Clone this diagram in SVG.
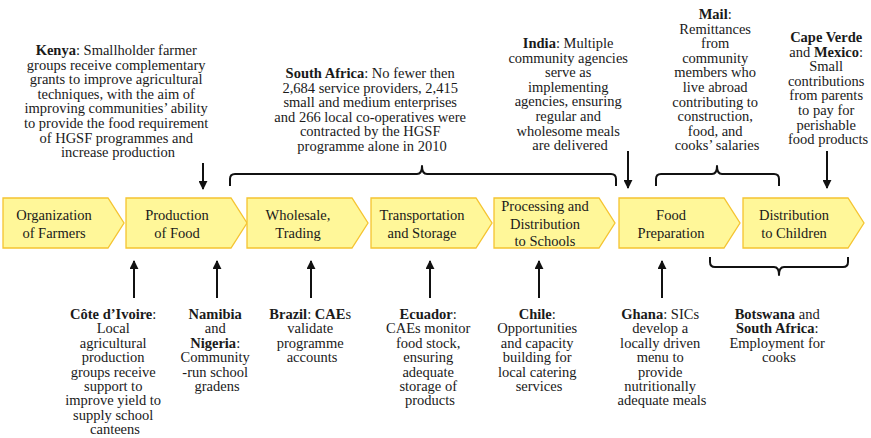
<svg xmlns="http://www.w3.org/2000/svg" width="871" height="438" viewBox="0 0 871 438">
<defs>
<style>
.t{font-family:"Liberation Serif","Times New Roman",serif;font-size:14.5px;fill:#1a1a1a;text-anchor:middle}
.b{font-weight:bold}
.chev{fill:#FFF799;stroke:#F5C431;stroke-width:1.3}
.ln{fill:none;stroke:#111;stroke-width:2}
.br{fill:none;stroke:#111;stroke-width:2;stroke-linejoin:round}
</style>
<path id="chevShape" d="M0,0 H105 L121,25 L105,50 H0 Z"/>
<marker id="ah" viewBox="0 0 10 10" refX="9" refY="5" markerWidth="4.5" markerHeight="4.5" orient="auto" markerUnits="strokeWidth">
<path d="M0,0 L10,5 L0,10 Z" fill="#111"/>
</marker>
</defs>
<rect width="871" height="438" fill="#fff"/>

<g id="n1"><use href="#chevShape" class="chev" x="3" y="198"/>
<text class="t"><tspan x="54" y="220">Organization</tspan><tspan x="54" y="237.5">of Farmers</tspan></text></g>
<g id="n2"><use href="#chevShape" class="chev" x="126" y="198"/>
<text class="t"><tspan x="177" y="220">Production</tspan><tspan x="177" y="237.5">of Food</tspan></text></g>
<g id="n3"><use href="#chevShape" class="chev" x="247" y="198"/>
<text class="t"><tspan x="298" y="220">Wholesale,</tspan><tspan x="298" y="237.5">Trading</tspan></text></g>
<g id="n4"><use href="#chevShape" class="chev" x="371" y="198"/>
<text class="t"><tspan x="422" y="220">Transportation</tspan><tspan x="422" y="237.5">and Storage</tspan></text></g>
<g id="n5"><use href="#chevShape" class="chev" x="494" y="198"/>
<text class="t"><tspan x="545" y="211">Processing and</tspan><tspan x="545" y="228.5">Distribution</tspan><tspan x="545" y="246">to Schools</tspan></text></g>
<g id="n6"><use href="#chevShape" class="chev" x="619" y="198"/>
<text class="t"><tspan x="671" y="220">Food</tspan><tspan x="671" y="237.5">Preparation</tspan></text></g>
<g id="n7"><use href="#chevShape" class="chev" x="743" y="198"/>
<text class="t"><tspan x="794" y="220">Distribution</tspan><tspan x="794" y="237.5">to Children</tspan></text></g>

<g id="connectors">
<line class="ln" x1="203" y1="163" x2="203" y2="189" marker-end="url(#ah)"/>
<line class="ln" x1="628" y1="151" x2="628" y2="188" marker-end="url(#ah)"/>
<line class="ln" x1="827" y1="151" x2="827" y2="188" marker-end="url(#ah)"/>
<line class="ln" x1="134" y1="298" x2="134" y2="261" marker-end="url(#ah)"/>
<line class="ln" x1="217" y1="298" x2="217" y2="261" marker-end="url(#ah)"/>
<line class="ln" x1="311" y1="298" x2="311" y2="261" marker-end="url(#ah)"/>
<line class="ln" x1="430" y1="298" x2="430" y2="261" marker-end="url(#ah)"/>
<line class="ln" x1="539" y1="298" x2="539" y2="261" marker-end="url(#ah)"/>
<line class="ln" x1="662" y1="298" x2="662" y2="261" marker-end="url(#ah)"/>
<path class="br" d="M230,186 V179 Q230,174 235,174 H417 Q422,174 422,166 Q422,174 427,174 H611 Q616,174 616,179 V186"/>
<path class="br" d="M656,186 V179 Q656,174 661,174 H712 Q717,174 717,166 Q717,174 722,174 H774 Q779,174 779,179 V186"/>
<path class="br" d="M710,257 V262 Q710,267 715,267 H774 Q779,267 779,275 Q779,267 784,267 H843 Q848,267 848,262 V257"/>
</g>

<g id="kenya"><text class="t">
<tspan x="118" y="55"><tspan class="b">Kenya</tspan>: Smallholder farmer</tspan>
<tspan x="118" y="69.6">groups receive complementary</tspan>
<tspan x="118" y="84.2">grants to improve agricultural</tspan>
<tspan x="118" y="98.8">techniques, with the aim of</tspan>
<tspan x="118" y="113.4">improving communities’ ability</tspan>
<tspan x="118" y="128">to provide the food requirement</tspan>
<tspan x="118" y="142.6">of HGSF programmes and</tspan>
<tspan x="118" y="157.2">increase production</tspan>
</text></g>

<g id="southafrica"><text class="t">
<tspan x="372" y="78"><tspan class="b">South Africa</tspan>: No fewer then</tspan>
<tspan x="372" y="92.6">2,684 service providers, 2,415</tspan>
<tspan x="372" y="107.2">small and medium enterprises</tspan>
<tspan x="372" y="121.8">and 266 local co-operatives were</tspan>
<tspan x="372" y="136.4">contracted by the HGSF</tspan>
<tspan x="372" y="151">programme alone in 2010</tspan>
</text></g>

<g id="india"><text class="t">
<tspan x="570" y="48"><tspan class="b">India</tspan>: Multiple</tspan>
<tspan x="570" y="62.6">community agencies</tspan>
<tspan x="570" y="77.2">serve as</tspan>
<tspan x="570" y="91.8">implementing</tspan>
<tspan x="570" y="106.4">agencies, ensuring</tspan>
<tspan x="570" y="121">regular and</tspan>
<tspan x="570" y="135.6">wholesome meals</tspan>
<tspan x="570" y="150.2">are delivered</tspan>
</text></g>

<g id="mail"><text class="t">
<tspan x="717" y="19"><tspan class="b">Mail</tspan>:</tspan>
<tspan x="717" y="33.6">Remittances</tspan>
<tspan x="717" y="48.2">from</tspan>
<tspan x="717" y="62.8">community</tspan>
<tspan x="717" y="77.4">members who</tspan>
<tspan x="717" y="92">live abroad</tspan>
<tspan x="717" y="106.6">contributing to</tspan>
<tspan x="717" y="121.2">construction,</tspan>
<tspan x="717" y="135.8">food, and</tspan>
<tspan x="717" y="150.4">cooks’ salaries</tspan>
</text></g>

<g id="capeverde"><text class="t">
<tspan x="828" y="42" class="b">Cape Verde</tspan>
<tspan x="828" y="56.6">and <tspan class="b">Mexico</tspan>:</tspan>
<tspan x="828" y="71.2">Small</tspan>
<tspan x="828" y="85.8">contributions</tspan>
<tspan x="828" y="100.4">from parents</tspan>
<tspan x="828" y="115">to pay for</tspan>
<tspan x="828" y="129.6">perishable</tspan>
<tspan x="828" y="144.2">food products</tspan>
</text></g>

<g id="cotedivoire"><text class="t">
<tspan x="115" y="319"><tspan class="b">Côte d’Ivoire</tspan>:</tspan>
<tspan x="115" y="333.4">Local</tspan>
<tspan x="115" y="347.8">agricultural</tspan>
<tspan x="115" y="362.2">production</tspan>
<tspan x="115" y="376.6">groups receive</tspan>
<tspan x="115" y="391">support to</tspan>
<tspan x="115" y="405.4">improve yield to</tspan>
<tspan x="115" y="419.8">supply school</tspan>
<tspan x="115" y="434.2">canteens</tspan>
</text></g>

<g id="namibia"><text class="t">
<tspan x="217" y="319" class="b">Namibia</tspan>
<tspan x="217" y="333.4">and</tspan>
<tspan x="217" y="347.8"><tspan class="b">Nigeria</tspan>:</tspan>
<tspan x="217" y="362.2">Community</tspan>
<tspan x="217" y="376.6">-run school</tspan>
<tspan x="217" y="391">gradens</tspan>
</text></g>

<g id="brazil"><text class="t">
<tspan x="312" y="319"><tspan class="b">Brazil</tspan>: <tspan class="b">CAE</tspan>s</tspan>
<tspan x="312" y="333.4">validate</tspan>
<tspan x="312" y="347.8">programme</tspan>
<tspan x="312" y="362.2">accounts</tspan>
</text></g>

<g id="ecuador"><text class="t">
<tspan x="430" y="319"><tspan class="b">Ecuador</tspan>:</tspan>
<tspan x="430" y="333.4">CAEs monitor</tspan>
<tspan x="430" y="347.8">food stock,</tspan>
<tspan x="430" y="362.2">ensuring</tspan>
<tspan x="430" y="376.6">adequate</tspan>
<tspan x="430" y="391">storage of</tspan>
<tspan x="430" y="405.4">products</tspan>
</text></g>

<g id="chile"><text class="t">
<tspan x="539" y="319"><tspan class="b">Chile</tspan>:</tspan>
<tspan x="539" y="333.4">Opportunities</tspan>
<tspan x="539" y="347.8">and capacity</tspan>
<tspan x="539" y="362.2">building for</tspan>
<tspan x="539" y="376.6">local catering</tspan>
<tspan x="539" y="391">services</tspan>
</text></g>

<g id="ghana"><text class="t">
<tspan x="662" y="319"><tspan class="b">Ghana</tspan>: SICs</tspan>
<tspan x="662" y="333.4">develop a</tspan>
<tspan x="662" y="347.8">locally driven</tspan>
<tspan x="662" y="362.2">menu to</tspan>
<tspan x="662" y="376.6">provide</tspan>
<tspan x="662" y="391">nutritionally</tspan>
<tspan x="662" y="405.4">adequate meals</tspan>
</text></g>

<g id="botswana"><text class="t">
<tspan x="779" y="319"><tspan class="b">Botswana</tspan> and</tspan>
<tspan x="779" y="333.4"><tspan class="b">South Africa</tspan>:</tspan>
<tspan x="779" y="347.8">Employment for</tspan>
<tspan x="779" y="362.2">cooks</tspan>
</text></g>
</svg>
